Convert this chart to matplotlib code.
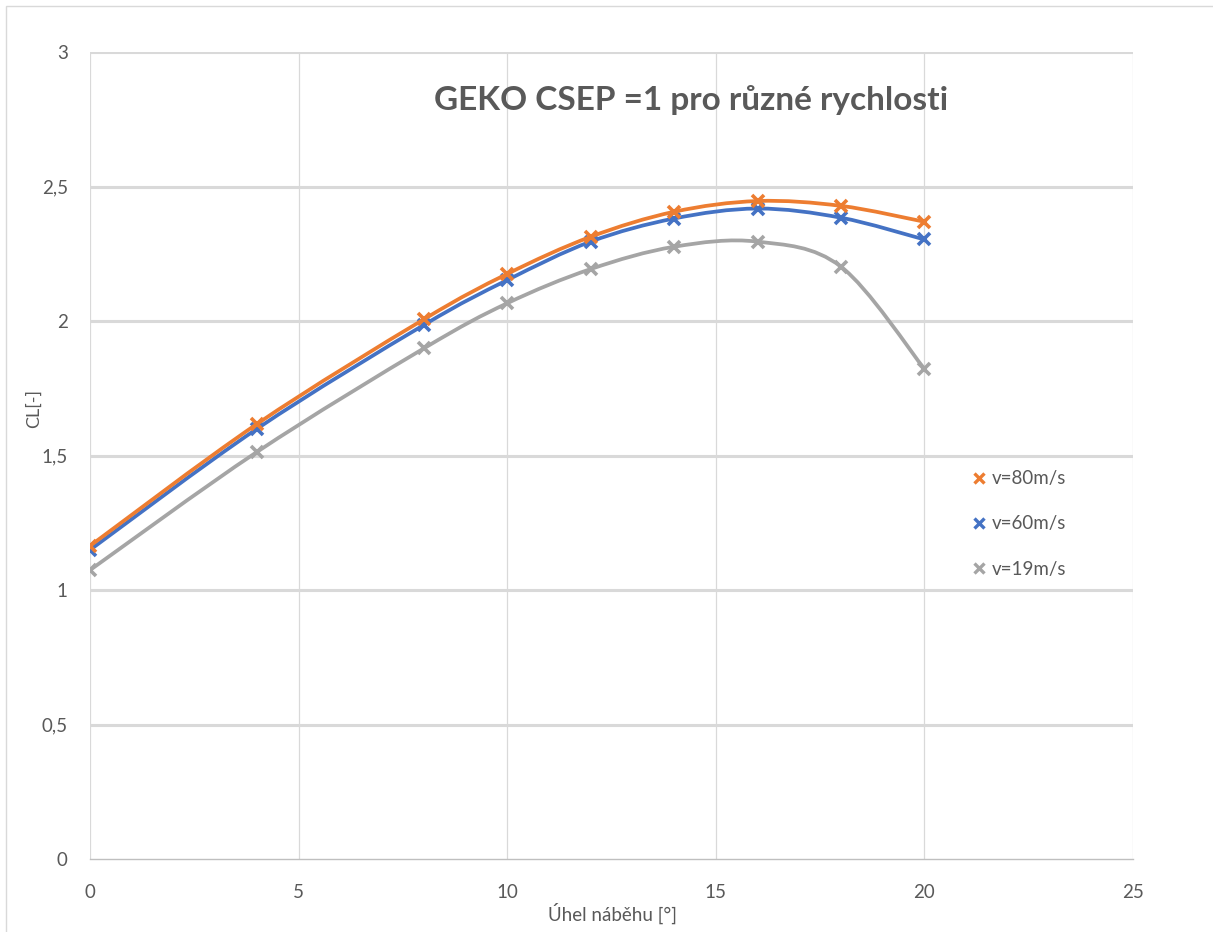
import matplotlib
matplotlib.use("Agg")
import matplotlib.pyplot as plt
from matplotlib.path import Path
from matplotlib.patches import PathPatch, Rectangle
from matplotlib.lines import Line2D
import numpy as np

plt.rcParams['font.family'] = ['Lato', 'DejaVu Sans']

# Angle of attack [deg]
alpha = [0, 4, 8, 10, 12, 14, 16, 18, 20]

# Lift coefficient for each inflow velocity
cl_80 = [1.164, 1.617, 2.006, 2.175, 2.313, 2.406, 2.446, 2.428, 2.369]
cl_60 = [1.149, 1.599, 1.985, 2.152, 2.295, 2.381, 2.418, 2.384, 2.303]
cl_19 = [1.074, 1.513, 1.898, 2.066, 2.193, 2.276, 2.295, 2.202, 1.822]

series_labels = ["v=80m/s", "v=60m/s", "v=19m/s"]
series_colors = ["#ED7D31", "#4472C4", "#A5A5A5"]

x_ticks = [0, 5, 10, 15, 20, 25]
y_ticks = [0, 0.5, 1, 1.5, 2, 2.5, 3]
y_tick_labels = ["0", "0,5", "1", "1,5", "2", "2,5", "3"]

title = "GEKO CSEP =1 pro různé rychlosti"
x_label = "Úhel náběhu [°]"
y_label = "CL[-]"

TEXT = "#595959"
GRID = "#D9D9D9"

W, H = 1213, 932
fig = plt.figure(figsize=(W / 100, H / 100), dpi=100)
ax = fig.add_axes([90 / W, 1 - 859 / H, (1133 - 90) / W, (859 - 52) / H])

# outer chart frame
fig.patches.append(Rectangle((6 / W, -0.02), 1.05, 1 - 6 / H + 0.02,
                             transform=fig.transFigure, fill=False,
                             edgecolor="#D9D9D9", linewidth=1.0))


def smooth_path(xs, ys):
    """Cubic Bezier spline through the points (Catmull-Rom style tangents)."""
    p = np.column_stack([xs, ys]).astype(float)
    n = len(p)
    verts = [p[0]]
    codes = [Path.MOVETO]
    for i in range(n - 1):
        p0 = p[i - 1] if i > 0 else p[i]
        p1 = p[i]
        p2 = p[i + 1]
        p3 = p[i + 2] if i + 2 < n else p[i + 1]
        c1 = p1 + (p2 - p0) / 6.0
        c2 = p2 - (p3 - p1) / 6.0
        verts += [c1, c2, p2]
        codes += [Path.CURVE4] * 3
    return Path(verts, codes)


# gridlines
for yv in y_ticks[1:]:
    ax.axhline(yv, color=GRID, linewidth=2.2, zorder=0)
for xv in x_ticks:
    ax.axvline(xv, color=GRID, linewidth=0.9, zorder=0)

data = [cl_80, cl_60, cl_19]
for z, (ys, col) in enumerate(zip(data[::-1], series_colors[::-1])):
    patch = PathPatch(smooth_path(alpha, ys), facecolor="none", edgecolor=col,
                      linewidth=2.7, zorder=2 + z, capstyle="round")
    ax.add_patch(patch)
    ax.plot(alpha, ys, linestyle="none", marker="x", color=col,
            markersize=8, markeredgewidth=2.6, zorder=2 + z)

ax.set_xlim(0, 25)
ax.set_ylim(0, 3)
ax.set_xticks(x_ticks)
ax.set_yticks(y_ticks)
ax.set_yticklabels(y_tick_labels)
ax.tick_params(axis="both", length=0, labelsize=13.5, colors=TEXT)
ax.tick_params(axis="x", pad=18)
ax.tick_params(axis="y", pad=16)
for s in ["top", "right", "left"]:
    ax.spines[s].set_visible(False)
ax.spines["bottom"].set_color("#BFBFBF")
ax.spines["bottom"].set_linewidth(1.0)
ax.set_facecolor("white")

fig.text(612 / W, 1 - 913 / H, x_label, ha="center", va="center",
         fontsize=13.5, color=TEXT)
fig.text(34 / W, 1 - 408 / H, y_label, ha="center", va="center",
         rotation=90, fontsize=13, color=TEXT)

fig.text(691 / W, 1 - 100 / H, title, ha="center", va="center",
         fontsize=24, fontweight="bold", color=TEXT)

handles = [Line2D([], [], linestyle="none", marker="x", color=c,
                  markersize=7, markeredgewidth=2.4) for c in series_colors]
fig.legend(handles, series_labels, loc="center left",
           bbox_to_anchor=(955 / W, 1 - 524 / H), frameon=False,
           fontsize=13.5, labelcolor=TEXT, handlelength=0.8,
           handletextpad=0.25, labelspacing=1.5)

fig.savefig("out.png", dpi=100, facecolor="white")
